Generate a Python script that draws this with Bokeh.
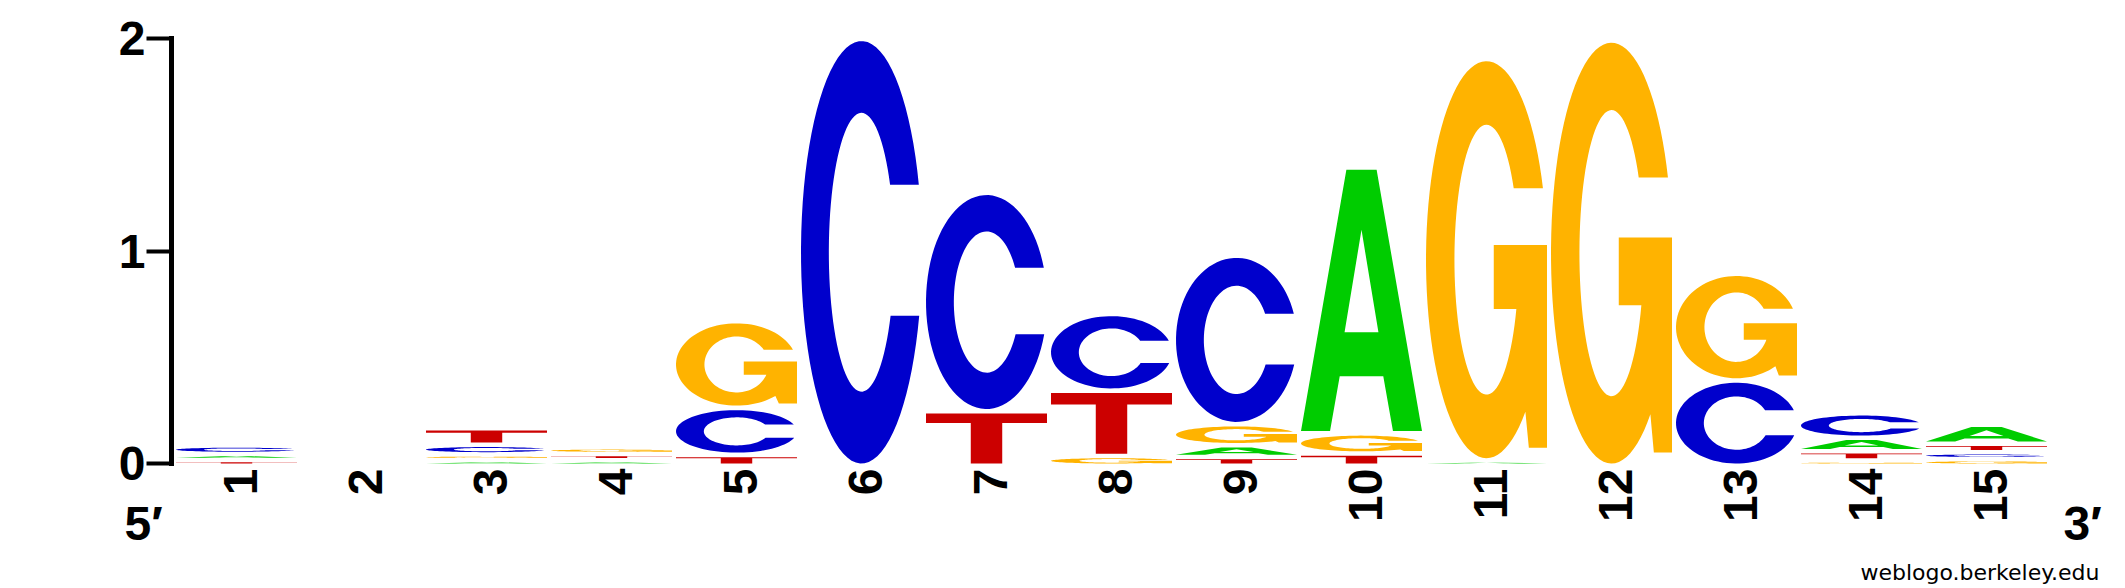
import numpy as np

from bokeh.core.properties import value
from bokeh.embed import file_html
from bokeh.models import ColumnDataSource
from bokeh.plotting import figure
from bokeh.resources import INLINE

# sequence logo data: visible letter heights in bits, positions 1..15
positions = list(range(1, 16))
tick_labels = [str(i) for i in positions]
bits_A = [0.007, 0, 0.005, 0.005, 0, 0, 0, 0, 0.034, 1.23, 0.004, 0, 0, 0.042, 0.068]
bits_C = [0.019, 0, 0.024, 0, 0.2, 1.988, 1.007, 0.34, 0.772, 0, 0, 0, 0.38, 0.094, 0.011]
bits_G = [0, 0, 0.006, 0.01, 0.387, 0, 0, 0.025, 0.078, 0.074, 1.868, 1.98, 0.481, 0.004, 0.01]
bits_T = [0.006, 0, 0.057, 0.008, 0.03, 0, 0.235, 0.286, 0.02, 0.036, 0, 0, 0, 0.022, 0.019]

colors = {"A": "#00CC00", "C": "#0000CC", "G": "#FFB300", "T": "#CC0000"}
GAP = 0.0212      # vertical space left above each stacked letter
WIDTH = 0.968     # letter width in position units
AXIS_X = 0.48     # where the bits axis stands


def arc(cx, cy, rx, ry, a0, a1, n=80):
    t = np.radians(np.linspace(a0, a1, n))
    return list(cx + rx * np.cos(t)), list(cy + ry * np.sin(t))


def outline(letter):
    """Letter shape in a unit box, as a list of rings (outer ring first, then holes)."""
    if letter == "T":
        return [([0, 1, 1, 0.63, 0.63, 0.37, 0.37, 0], [1, 1, 0.81, 0.81, 0, 0, 0.81, 0.81])]
    if letter == "A":
        outer = ([0, 0.375, 0.625, 1, 0.76, 0.68, 0.32, 0.24], [0, 1, 1, 0, 0, 0.21, 0.21, 0])
        hole = ([0.36, 0.64, 0.5], [0.378, 0.378, 0.77])
        return [outer, hole]
    if letter == "C":
        a_up, a_lo = np.degrees(np.arcsin(0.32)), np.degrees(np.arcsin(-0.30))
        i_up, i_lo = np.degrees(np.arcsin(0.16 / 0.33)), np.degrees(np.arcsin(-0.15 / 0.33))
        ox, oy = arc(0.5, 0.5, 0.5, 0.5, a_up, 360 + a_lo)
        ix, iy = arc(0.5, 0.5, 0.27, 0.33, 360 + i_lo, i_up)
        return [(ox + ix, oy + iy)]
    # G
    a_up = np.degrees(np.arcsin(0.36))
    i_up = np.degrees(np.arcsin(0.18 / 0.34))
    i_bar = np.degrees(np.arcsin(-0.124 / 0.34))
    ox, oy = arc(0.5, 0.5, 0.5, 0.5, a_up, 310)
    sx = [0.85, 1.0, 1.0, 0.56, 0.56]
    sy = [0.026, 0.026, 0.537, 0.537, 0.376]
    ix, iy = arc(0.5, 0.5, 0.265, 0.34, i_bar, i_up - 360)
    return [(ox + sx + ix, oy + sy + iy)]


heights = {"A": bits_A, "C": bits_C, "G": bits_G, "T": bits_T}
xs, ys, fills = [], [], []
for i, pos in enumerate(positions):
    stack = sorted(((heights[b][i], b) for b in "ACGT" if heights[b][i] > 0))
    base = 0.0
    for h, b in stack:
        rings_x, rings_y = [], []
        for rx, ry in outline(b):
            rings_x.append([pos - WIDTH / 2 + u * WIDTH for u in rx])
            rings_y.append([base + v * h for v in ry])
        xs.append([rings_x])
        ys.append([rings_y])
        fills.append(colors[b])
        base += h + GAP

src = ColumnDataSource(data=dict(xs=xs, ys=ys, color=fills))

p = figure(width=2125, height=588,
           x_range=(-0.088, 16.112), y_range=(-0.5882, 2.1788),
           x_axis_location=None,
           output_backend="svg", toolbar_location=None,
           min_border=0, min_border_left=100)

p.multi_polygons(xs="xs", ys="ys", fill_color="color", line_color=None, source=src)

# position labels, rotated to read upwards
p.text(x=[x + 0.032 for x in positions], y=[-0.0235] * len(positions), text=tick_labels,
       angle=np.pi / 2, text_align="right", text_baseline="alphabetic",
       text_font=value("Liberation Sans"), text_font_style="bold",
       text_font_size="48px", text_color="black")

# 5' / 3' ends and credit line
p.text(x=[0.104, 15.616], y=[-0.282, -0.282], text=["5\u2032", "3\u2032"],
       text_align="left", text_baseline="alphabetic",
       text_font=value("Liberation Sans"), text_font_style="bold",
       text_font_size="48px", text_color="black")
p.text(x=[15.904], y=[-0.512], text=["weblogo.berkeley.edu"],
       text_align="right", text_baseline="alphabetic",
       text_font=value("DejaVu Sans"), text_font_size="22px", text_color="black")

ax = p.yaxis[0]
ax.fixed_location = AXIS_X
ax.ticker = [0, 1, 2]
ax.bounds = (0, 2)
ax.axis_line_width = 5
ax.axis_line_cap = "square"
ax.major_tick_line_width = 4
ax.major_tick_out = 25
ax.major_tick_in = 0
ax.minor_tick_line_color = None
ax.major_label_standoff = 1
ax.major_label_text_font = "Liberation Sans"
ax.major_label_text_font_style = "bold"
ax.major_label_text_font_size = "48px"
ax.major_label_text_color = "black"

p.xgrid.visible = False
p.ygrid.visible = False
p.outline_line_color = None
p.background_fill_color = "white"
p.border_fill_color = "white"

open("out.html", "w").write(file_html(p, INLINE))
